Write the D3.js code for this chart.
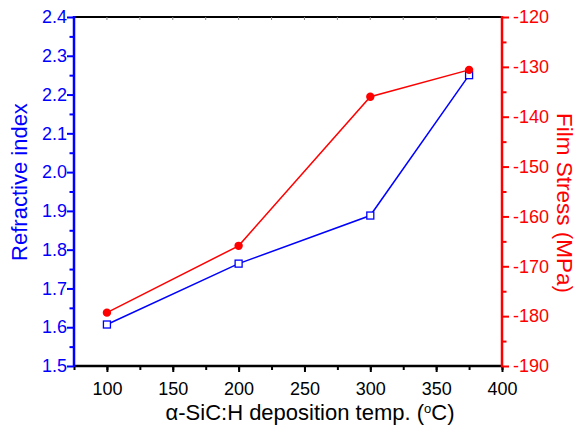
<!DOCTYPE html>
<html>
<head>
<meta charset="utf-8">
<script src="https://cdn.jsdelivr.net/npm/d3@7"></script>
<style>
  body { margin: 0; background: #fff; }
  svg { font-family: Arial, "Liberation Sans", sans-serif; }
</style>
</head>
<body>
<svg id="chart" width="576" height="435"></svg>
<script>
// Deposition temperature (°C)
const temps = [100, 200, 300, 375];
// Refractive index (left axis)
const refractiveIndex = [1.607, 1.764, 1.888, 2.250];
// Film stress in MPa (right axis)
const filmStress = [-179.3, -165.9, -136.0, -130.6];

const xTicks = [100, 150, 200, 250, 300, 350, 400];
const yLeftTicks = [1.5, 1.6, 1.7, 1.8, 1.9, 2.0, 2.1, 2.2, 2.3, 2.4];
const yRightTicks = [-190, -180, -170, -160, -150, -140, -130, -120];

const BLUE = "#0000ff", RED = "#ff0000";
const plotL = 74, plotR = 502, plotT = 17, plotB = 366;
const FONT = "Arial, Liberation Sans, sans-serif";
const TICK_FS = 18, TITLE_FS = 22;

const svg = d3.select("#chart");
const x = d3.scaleLinear().domain([75, 400]).range([plotL, plotR]);
const yL = d3.scaleLinear().domain([1.5, 2.4]).range([plotB, plotT]);
const yR = d3.scaleLinear().domain([-190, -120]).range([plotB, plotT]);

// top frame line with small inward ticks
svg.append("line").attr("x1", plotL).attr("x2", plotR).attr("y1", plotT).attr("y2", plotT)
  .attr("stroke", "#000").attr("stroke-width", 2);
svg.append("g").selectAll("line").data(d3.range(100, 400, 25)).join("line")
  .attr("x1", d => x(d)).attr("x2", d => x(d)).attr("y1", plotT).attr("y2", plotT + 3)
  .attr("stroke", "#888").attr("stroke-width", 1);

// bottom axis
const gx = svg.append("g").attr("transform", `translate(0,${plotB})`);
gx.append("g").call(d3.axisBottom(x).tickValues(d3.range(75, 401, 25)).tickSize(4).tickFormat(""))
  .call(g => g.select(".domain").remove())
  .selectAll("line").attr("stroke", "#000").attr("stroke-width", 2);
gx.append("g").call(d3.axisBottom(x).tickValues(xTicks).tickSize(6).tickPadding(10))
  .call(g => g.select(".domain").remove())
  .call(g => g.selectAll("line").attr("stroke", "#000").attr("stroke-width", 2))
  .call(g => g.selectAll("text").attr("font-size", TICK_FS).attr("fill", "#000").attr("font-family", FONT));
svg.append("line").attr("x1", plotL).attr("x2", plotR + 1).attr("y1", plotB).attr("y2", plotB)
  .attr("stroke", "#000").attr("stroke-width", 2.5);

// left axis (refractive index)
const gl = svg.append("g").attr("transform", `translate(${plotL},0)`);
gl.append("g").call(d3.axisLeft(yL).tickValues(d3.range(1.55, 2.4, 0.1)).tickSize(4.5).tickFormat(""))
  .call(g => g.select(".domain").remove())
  .selectAll("line").attr("stroke", BLUE).attr("stroke-width", 2);
gl.append("g").call(d3.axisLeft(yL).tickValues(yLeftTicks).tickSize(7).tickPadding(0).tickFormat(d3.format(".1f")))
  .call(g => g.select(".domain").remove())
  .call(g => g.selectAll("line").attr("stroke", BLUE).attr("stroke-width", 2))
  .call(g => g.selectAll("text").attr("font-size", TICK_FS).attr("fill", BLUE).attr("font-family", FONT));
svg.append("line").attr("x1", plotL).attr("x2", plotL).attr("y1", plotT - 1).attr("y2", plotB + 1)
  .attr("stroke", BLUE).attr("stroke-width", 2.5);

// right axis (film stress)
const gr = svg.append("g").attr("transform", `translate(${plotR},0)`);
gr.append("g").call(d3.axisRight(yR).tickValues(d3.range(-185, -120, 10)).tickSize(4.5).tickFormat(""))
  .call(g => g.select(".domain").remove())
  .selectAll("line").attr("stroke", RED).attr("stroke-width", 2);
gr.append("g").call(d3.axisRight(yR).tickValues(yRightTicks).tickSize(7).tickPadding(4).tickFormat(d => String(d)))
  .call(g => g.select(".domain").remove())
  .call(g => g.selectAll("line").attr("stroke", RED).attr("stroke-width", 2))
  .call(g => g.selectAll("text").attr("font-size", TICK_FS).attr("fill", RED).attr("font-family", FONT));
svg.append("line").attr("x1", plotR).attr("x2", plotR).attr("y1", plotT - 1).attr("y2", plotB + 1)
  .attr("stroke", RED).attr("stroke-width", 2.5);

// series lines
const blueData = temps.map((t, i) => [t, refractiveIndex[i]]);
const redData = temps.map((t, i) => [t, filmStress[i]]);

svg.append("path").datum(blueData)
  .attr("d", d3.line().x(d => x(d[0])).y(d => yL(d[1])))
  .attr("fill", "none").attr("stroke", BLUE).attr("stroke-width", 1.5);
svg.append("path").datum(redData)
  .attr("d", d3.line().x(d => x(d[0])).y(d => yR(d[1])))
  .attr("fill", "none").attr("stroke", RED).attr("stroke-width", 1.5);

// markers
svg.append("g").selectAll("rect").data(blueData).join("rect")
  .attr("x", d => x(d[0]) - 3.5).attr("y", d => yL(d[1]) - 3.5)
  .attr("width", 7).attr("height", 7)
  .attr("fill", "#fff").attr("stroke", BLUE).attr("stroke-width", 1.3);
svg.append("g").selectAll("circle").data(redData).join("circle")
  .attr("cx", d => x(d[0])).attr("cy", d => yR(d[1])).attr("r", 4.2)
  .attr("fill", RED);

// axis titles
svg.append("text")
  .attr("transform", "translate(27,182) rotate(-90)")
  .attr("text-anchor", "middle").attr("font-size", TITLE_FS).attr("fill", BLUE)
  .text("Refractive index");

svg.append("text")
  .attr("transform", "translate(557,203) rotate(90)")
  .attr("text-anchor", "middle").attr("font-size", TITLE_FS + 0.5).attr("fill", RED)
  .text("Film Stress (MPa)");

const xt = svg.append("text")
  .attr("x", 310).attr("y", 420)
  .attr("text-anchor", "middle").attr("font-size", TITLE_FS).attr("fill", "#000");
xt.append("tspan").text("\u03B1-SiC:H deposition temp. (");
xt.append("tspan").attr("dy", -7).attr("font-size", 13).text("o");
xt.append("tspan").attr("dy", 7).text("C)");
</script>
</body>
</html>
